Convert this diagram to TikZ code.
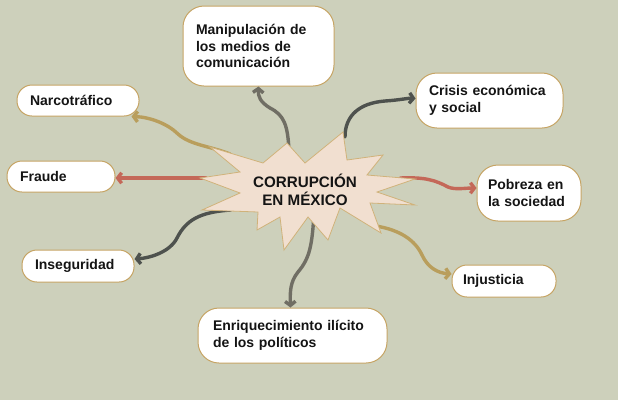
\documentclass[tikz,border=0pt]{standalone}
\usepackage{fontspec}
\setmainfont{Liberation Sans}
\usetikzlibrary{arrows.meta}
\definecolor{bg}{RGB}{205,208,187}
\definecolor{boxborder}{RGB}{198,164,100}
\definecolor{starfill}{RGB}{241,223,208}
\definecolor{starborder}{RGB}{208,178,122}
\definecolor{txt}{RGB}{20,20,20}
\definecolor{goldc}{RGB}{185,158,92}
\definecolor{redc}{RGB}{196,104,88}
\definecolor{darkc}{RGB}{78,82,78}
\definecolor{grayc}{RGB}{112,110,100}
\begin{document}
\begin{tikzpicture}[x=1pt,y=-1pt,
  box/.style={draw=boxborder, line width=1pt, fill=white, rounded corners=15pt,
    align=left, inner xsep=13pt, inner ysep=2pt, text=txt,
    font=\bfseries\fontsize{14}{16.4}\selectfont},
  tallbox/.style={box, rounded corners=21pt},
  conn/.style={line width=3.4pt, line cap=round,
    -{Straight Barb[length=4pt,width=10.5pt]}}]
\fill[bg] (0,0) rectangle (618,400);
\useasboundingbox (0,0) rectangle (618,400);

% boxes
\node[box, text width=96pt, minimum height=31pt] (narco) at (78,100.5) {Narcotráfico};
\node[box, text width=82pt, minimum height=31pt] (fraude) at (61,176.5) {Fraude};
\node[box, text width=86pt, minimum height=32pt] (inseg) at (78,266) {Inseguridad};
\node[tallbox, text width=125pt, minimum height=80pt] (manip) at (258.5,46) {Manipulación de\\los medios de\\comunicación};
\node[tallbox, text width=121pt, minimum height=55pt] (crisis) at (489.5,100.5) {Crisis económica\\y social};
\node[tallbox, inner xsep=11pt, text width=82pt, minimum height=56pt] (pobreza) at (529,193) {Pobreza en\\la sociedad};
\node[box, inner xsep=11pt, text width=82pt, minimum height=32pt] (injus) at (504,281) {Injusticia};
\node[tallbox, inner xsep=15pt, text width=159pt, minimum height=55pt] (enriq) at (292.5,335.5) {Enriquecimiento ilícito\\de los políticos};

% connector start points (inside the star)
\coordinate (s1) at (230,154);
\coordinate (s2) at (206,178);
\coordinate (s3) at (231,210);
\coordinate (s4) at (289,152);
\coordinate (s5) at (345,137);
\coordinate (s6) at (400,178);
\coordinate (s7) at (376,226);
\coordinate (s8) at (314,214);

% connectors
\draw[conn, goldc] (s1) .. controls (210,146) and (190,145) .. (178,134)
  .. controls (168,124) and (150,117) .. ([xshift=-8pt]narco.south east);
\draw[conn, redc] (s2) -- ([yshift=-1.5pt]fraude.east);
\draw[conn, darkc] (s3) .. controls (200,212) and (186,220) .. (177,238)
  .. controls (170,252) and (150,258) .. ([yshift=7pt]inseg.east);
\draw[conn, grayc] (s4) .. controls (288,125) and (284,115) .. (270,108)
  .. controls (260,102) and (258,96) .. (manip.south);
\draw[conn, darkc] (s5) .. controls (345,115) and (360,103) .. (385,101)
  .. controls (400,100) and (408,98) .. ([yshift=2pt]crisis.west);
\draw[conn, redc] (s6) .. controls (425,177) and (435,180) .. (448,187)
  .. controls (455,190) and (465,188) .. ([yshift=5pt]pobreza.west);
\draw[conn, goldc] (s7) .. controls (400,230) and (415,240) .. (422,255)
  .. controls (428,268) and (438,273) .. ([yshift=7pt]injus.west);
\draw[conn, grayc] (s8) .. controls (312,245) and (310,258) .. (298,272)
  .. controls (290,282) and (290,292) .. ([xshift=-2pt]enriq.north);

% star
\filldraw[fill=starfill, draw=starborder, line width=0.8pt, line join=miter]
  (200,178) -- (240,172) -- (210,147) -- (263,163) -- (287,143) -- (305,163)
  -- (343,132) -- (347,160) -- (383,155) -- (367,175) -- (415,179) -- (377,192)
  -- (415,205) -- (370,203) -- (381,233) -- (340,208) -- (328,240) -- (308,217)
  -- (284,250) -- (280,217) -- (257,230) -- (258,212) -- (202,210) -- (240,193)
  -- cycle;
\node[align=center, text=txt, inner sep=0pt,
  font=\bfseries\fontsize{15.2}{18}\selectfont] (title) at (305,190) {CORRUPCIÓN\\EN MÉXICO};
\end{tikzpicture}
\end{document}
